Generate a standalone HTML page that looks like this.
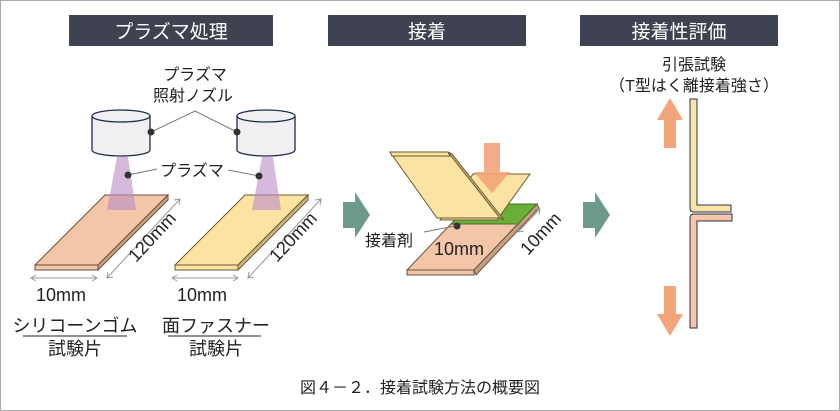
<!DOCTYPE html>
<html><head><meta charset="utf-8"><style>
html,body{margin:0;padding:0;background:#fff;}
svg{display:block;font-family:"Liberation Sans","Noto Sans CJK JP",sans-serif;}
</style></head><body>
<svg width="840" height="411" viewBox="0 0 840 411" xmlns="http://www.w3.org/2000/svg">
<rect x="0.5" y="0.5" width="839" height="410" fill="#fff" stroke="#aaa"/>
<rect x="69" y="15" width="204" height="31" fill="#3f4250"/>
<rect x="328" y="15" width="198" height="31" fill="#3f4250"/>
<rect x="580" y="15" width="198" height="31" fill="#3f4250"/>
<g fill="#fff" font-size="19" text-anchor="middle">
<text x="171" y="38">プラズマ処理</text>
<text x="427" y="38">接着</text>
<text x="679" y="38">接着性評価</text>
</g>
<g font-size="16" fill="#222" text-anchor="middle">
<text x="195" y="80">プラズマ</text>
<text x="193" y="101">照射ノズル</text>
<text x="192" y="176">プラズマ</text>
</g>
<polygon points="105,195 168,195 98,265 35,265" fill="#f4c6a8" stroke="#6b5040" stroke-width="1"/>
<polygon points="35,265 98,265 98,270 35,270" fill="#f4c6a8" stroke="#6b5040"/>
<polygon points="168,195 168,200 98,270 98,265" fill="#c7a080" stroke="#6b5040"/>
<polygon points="245,195 308,195 238,265 175,265" fill="#fbe3a3" stroke="#6b5a30"/>
<polygon points="175,265 238,265 238,270 175,270" fill="#fbe3a3" stroke="#6b5a30"/>
<polygon points="308,195 308,200 238,270 238,265" fill="#cdb880" stroke="#6b5a30"/>
<polygon points="117,157 128,157 136,210 107,210" fill="#b98cc8" opacity="0.6"/>
<polygon points="262,157 273,157 281,210 252,210" fill="#b98cc8" opacity="0.6"/>
<g fill="#f0f0f2" stroke="#1e2a48" stroke-width="1.3">
<path d="M92,116 V150 A29,6 0 0 0 150,150 V116"/>
<ellipse cx="121" cy="116" rx="29" ry="6"/>
<path d="M237,116 V150 A29,6 0 0 0 295,150 V116"/>
<ellipse cx="266" cy="116" rx="29" ry="6"/>
</g>
<g stroke="#777" stroke-width="1" fill="none">
<polyline points="151,132 195,111 237,132"/>
<line x1="128" y1="175" x2="157" y2="169"/>
<line x1="228" y1="170" x2="259" y2="176"/>
</g>
<g fill="#333">
<circle cx="151" cy="132" r="3.5"/><circle cx="237" cy="132" r="3.5"/>
<circle cx="128" cy="175" r="3.5"/><circle cx="259" cy="176" r="3.5"/>
</g>
<g stroke="#999" stroke-width="1" fill="none">
<line x1="31" y1="278" x2="97" y2="278"/><polyline points="36,275 31,278 36,281"/><polyline points="92,275 97,278 92,281"/>
<line x1="172" y1="278" x2="238" y2="278"/><polyline points="177,275 172,278 177,281"/><polyline points="233,275 238,278 233,281"/>
<line x1="107" y1="278" x2="180" y2="199"/><polyline points="108,272 107,278 113,277"/><polyline points="174,200 180,199 179,205"/>
<line x1="248" y1="278" x2="321" y2="199"/><polyline points="249,272 248,278 254,277"/><polyline points="315,200 321,199 320,205"/>
</g>
<g font-size="18" fill="#222">
<text x="36" y="301">10mm</text>
<text x="177" y="301">10mm</text>
<text transform="translate(136,263) rotate(-47)">120mm</text>
<text transform="translate(277,263) rotate(-47)">120mm</text>
</g>
<g font-size="18" fill="#222" text-anchor="middle">
<text x="75" y="332">シリコーンゴム</text>
<text x="75" y="355">試験片</text>
<text x="216" y="332">面ファスナー</text>
<text x="216" y="355">試験片</text>
</g>
<line x1="23" y1="336" x2="127" y2="336" stroke="#222"/>
<line x1="168" y1="336" x2="261" y2="336" stroke="#222"/>
<polygon points="343,202 355,202 355,192 370,215 355,238 355,228 343,228" fill="#6e9a8e"/>
<polygon points="583,202 595,202 595,192 610,215 595,238 595,228 583,228" fill="#6e9a8e"/>
<polygon points="470,204 537,204 474,270 407,270" fill="#f4c6a8" stroke="#6b5040"/>
<polygon points="407,270 474,270 474,275 407,275" fill="#f4c6a8" stroke="#6b5040"/>
<polygon points="537,204 539,208 476,275 474,270" fill="#c7a080" stroke="#6b5040"/>
<polygon points="470,204 537,204 518,224 451,224" fill="#6aae3a" stroke="#4a6a30"/>
<polygon points="473,174 530,174 497,220 440,220" fill="#fbe3a3" stroke="#6b5a30"/>
<polygon points="390,152 448,152 500,218 437,218" fill="#fbe3a3" stroke="#6b5a30"/>
<polygon points="448,152 452,154 504,220 500,218" fill="#cdb880" stroke="#6b5a30"/>
<polygon points="390,152 448,152 450,156 392,156" fill="#fbe3a3" stroke="#6b5a30"/>
<polygon points="484,143 500,143 500,172 510,172 492,193 474,172 484,172" fill="#f2a47a" opacity="0.9"/>
<circle cx="457" cy="226" r="3.5" fill="#333"/>
<line x1="424" y1="232" x2="455" y2="226" stroke="#777"/>
<g stroke="#999" fill="none"><line x1="518" y1="232" x2="540" y2="209"/><polyline points="519,226 518,232 524,231"/><polyline points="534,210 540,209 539,215"/></g>
<text x="365" y="246" font-size="16" fill="#222">接着剤</text>
<text x="434" y="255" font-size="18" fill="#222">10mm</text>
<text transform="translate(528,256) rotate(-47)" font-size="18" fill="#222">10mm</text>
<g font-size="16" fill="#222" text-anchor="middle">
<text x="694" y="70">引張試験</text>
<text x="694" y="91">（T型はく離接着強さ）</text>
</g>
<path d="M690,99 H697 V205 H731 V212 H694 Q690,212 690,208 Z" fill="#fbe3a3" stroke="#2a3050"/>
<path d="M690,328 H697 V221 H732 V214 H694 Q690,214 690,218 Z" fill="#f4c6a8" stroke="#2a3050"/>
<polygon points="664,148 676,148 676,120 683,120 670,98 657,120 664,120" fill="#f2a47a"/>
<polygon points="664,286 676,286 676,314 683,314 670,336 657,314 664,314" fill="#f2a47a"/>
<text x="420" y="393" font-size="16" fill="#222" text-anchor="middle">図４－２．接着試験方法の概要図</text>
</svg>
</body></html>
